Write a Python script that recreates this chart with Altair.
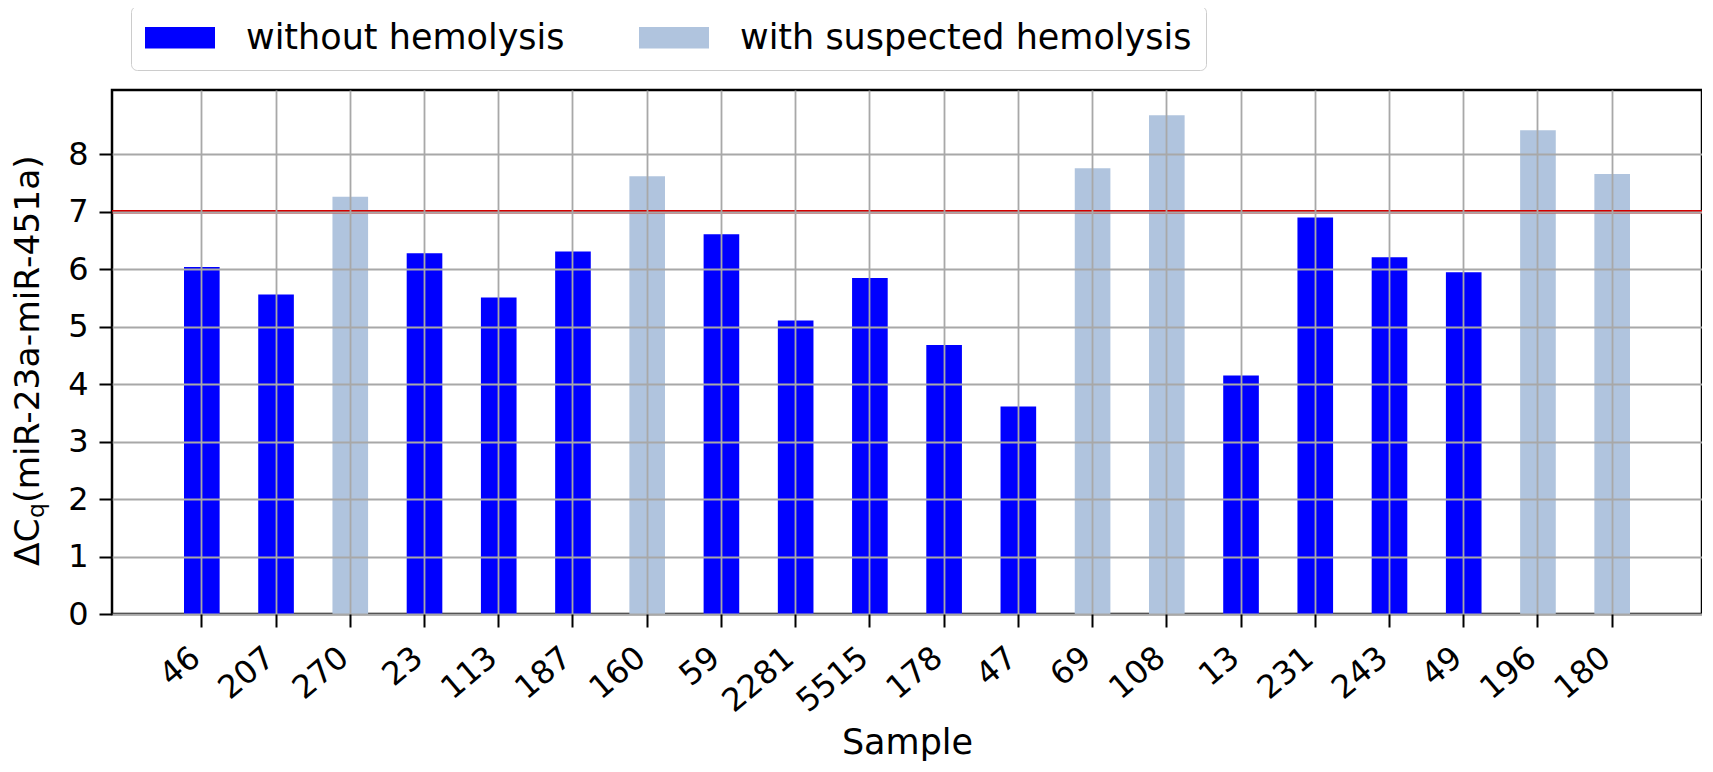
import altair as alt
import pandas as pd

samples = ["46", "207", "270", "23", "113", "187", "160", "59", "2281", "5515",
           "178", "47", "69", "108", "13", "231", "243", "49", "196", "180"]
delta_cq = [6.04, 5.56, 7.26, 6.28, 5.51, 6.31, 7.62, 6.61, 5.11, 5.85,
            4.68, 3.61, 7.76, 8.68, 4.15, 6.90, 6.21, 5.95, 8.42, 7.66]
hemolysis = ["without hemolysis", "without hemolysis", "with suspected hemolysis",
             "without hemolysis", "without hemolysis", "without hemolysis",
             "with suspected hemolysis", "without hemolysis", "without hemolysis",
             "without hemolysis", "without hemolysis", "without hemolysis",
             "with suspected hemolysis", "with suspected hemolysis",
             "without hemolysis", "without hemolysis", "without hemolysis",
             "without hemolysis", "with suspected hemolysis", "with suspected hemolysis"]
groups = ["without hemolysis", "with suspected hemolysis"]
group_colors = ["#0000ff", "#b0c4de"]
threshold = 7
y_ticks = [0, 1, 2, 3, 4, 5, 6, 7, 8]

df = pd.DataFrame({"Sample": samples, "dCq": delta_cq, "group": hemolysis})

W, H = 1590, 524
FONT = "DejaVu Sans"

bars = alt.Chart(df).mark_bar(opacity=1).encode(
    x=alt.X("Sample:N", sort=samples,
            scale=alt.Scale(paddingInner=0.52, paddingOuter=0.97),
            axis=alt.Axis(labelAngle=320, labelAlign="right", labelBaseline="middle",
                          labelPadding=26, labelOffset=-6, labelFontSize=32,
                          labelColor="black",
                          tickSize=13, tickWidth=2, tickColor="black",
                          grid=True, gridColor="#a8a8a8", gridWidth=1.8,
                          bandPosition=0.5, domain=False, zindex=1,
                          title="Sample", titleFontSize=35, titleFontWeight="normal",
                          titleColor="black", titleY=128, titleBaseline="middle")),
    y=alt.Y("dCq:Q", scale=alt.Scale(domain=[0, 9.12], nice=False, zero=True),
            axis=alt.Axis(values=y_ticks, format="d", labelFontSize=32, labelColor="black",
                          labelPadding=11, tickSize=13, tickWidth=2, tickColor="black",
                          grid=True, gridColor="#a8a8a8", gridWidth=1.8,
                          domain=False, zindex=1, title=None)),
    color=alt.Color("group:N", scale=alt.Scale(domain=groups, range=group_colors),
                    legend=alt.Legend(orient="none", legendX=19, legendY=-84,
                                      direction="horizontal", title=None,
                                      symbolType="M-2,-0.62H2V0.62H-2Z", symbolSize=1225,
                                      symbolStrokeWidth=0, symbolOpacity=1,
                                      symbolOffset=17.5,
                                      labelFontSize=35, labelColor="black", labelOffset=48.5,
                                      labelLimit=1000,
                                      columnPadding=74, padding=14,
                                      fillColor="white", strokeColor="#cccccc",
                                      cornerRadius=6)),
)

rule = alt.Chart(pd.DataFrame({"t": [threshold]})).mark_rule(
    color="#d40000", strokeWidth=3.5).encode(y="t:Q")

title_df = pd.DataFrame({"a": [0]})
t1 = alt.Chart(title_df).mark_text(text="ΔC", angle=270, align="left",
                                   baseline="alphabetic", fontSize=34.5, font=FONT,
                                   color="black").encode(x=alt.value(-73), y=alt.value(476))
t2 = alt.Chart(title_df).mark_text(text="q", angle=270, align="left",
                                   baseline="alphabetic", fontSize=23.5, font=FONT,
                                   color="black").encode(x=alt.value(-68), y=alt.value(428))
t3 = alt.Chart(title_df).mark_text(text="(miR-23a-miR-451a)", angle=270, align="left",
                                   baseline="alphabetic", fontSize=34.5, font=FONT,
                                   color="black").encode(x=alt.value(-73), y=alt.value(413))

chart = alt.layer(bars, rule, t1, t2, t3).properties(
    width=W, height=H,
    autosize=alt.AutoSizeParams(type="none"),
    padding={"left": 104, "top": 82, "right": 0, "bottom": 148},
).configure(font=FONT).configure_view(stroke="black", strokeWidth=2.5)

chart.save("out.html", embed_options={"renderer": "svg", "actions": False})
